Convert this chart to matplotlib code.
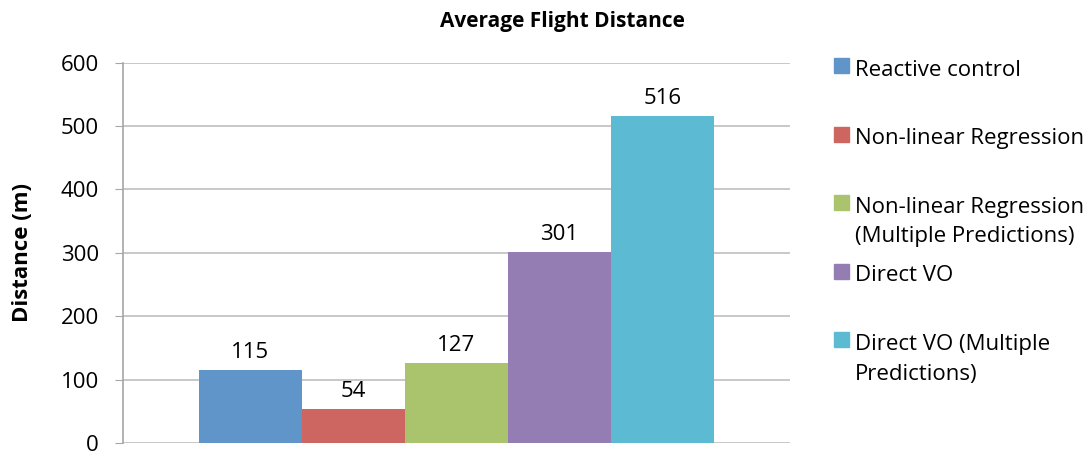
import matplotlib.pyplot as plt
from matplotlib.patches import Rectangle
import numpy as np

plt.rcParams['font.family'] = ['Open Sans', 'DejaVu Sans']

series = ["Reactive control", "Non-linear Regression",
          "Non-linear Regression\n(Multiple Predictions)", "Direct VO",
          "Direct VO (Multiple\nPredictions)"]
distances = [115, 54, 127, 301, 516]
colors = ["#6095C9", "#CD6660", "#A9C46C", "#937DB2", "#5CBAD3"]
yticks = [0, 100, 200, 300, 400, 500, 600]

W, H = 1091, 458
fig = plt.figure(figsize=(W / 100, H / 100), dpi=100)
ax = fig.add_axes([122.7 / W, 1 - 443 / H, (790 - 122.7) / W, (443 - 62.7) / H])

bar_w = 103 / 667.3
offsets = (np.arange(len(distances)) - (len(distances) - 1) / 2) * bar_w
for off, val, col in zip(offsets, distances, colors):
    ax.bar(off, val, width=bar_w, color=col, edgecolor="none", zorder=3)
    ax.annotate(str(val), (off, val), xytext=(0, 5), textcoords="offset points",
                ha="center", va="bottom", fontsize=16, color="black")

ax.set_xlim(-0.5, 0.5)
ax.set_ylim(0, 600)
ax.set_yticks(yticks)
ax.set_xticks([])
ax.tick_params(axis="y", labelsize=16, length=6, color="#A6A6A6", pad=11)
ax.yaxis.grid(True, color="#BFBFBF", linewidth=1.2, zorder=0)
for side in ["top", "right", "bottom"]:
    ax.spines[side].set_visible(False)
ax.spines["left"].set_color("#A6A6A6")
ax.spines["left"].set_linewidth(1.2)
ax.set_ylabel("Distance (m)", fontsize=16, fontweight="bold", labelpad=20)

fig.text(562 / W, 1 - 22 / H, "Average Flight Distance", ha="center", va="center",
         fontsize=15, fontweight="bold")

# Excel-style legend: fixed slots, text hangs down from the marker line
for i, (lab, col) in enumerate(zip(series, colors)):
    yc = 65.5 + i * 68.6
    fig.patches.append(Rectangle((834 / W, 1 - (yc + 7.5) / H), 15 / W, 15 / H,
                                 transform=fig.transFigure, color=col))
    fig.text(855 / W, 1 - (yc - 6) / H, lab, ha="left", va="top",
             fontsize=16, linespacing=1.55)

fig.savefig("out.png", dpi=100)
